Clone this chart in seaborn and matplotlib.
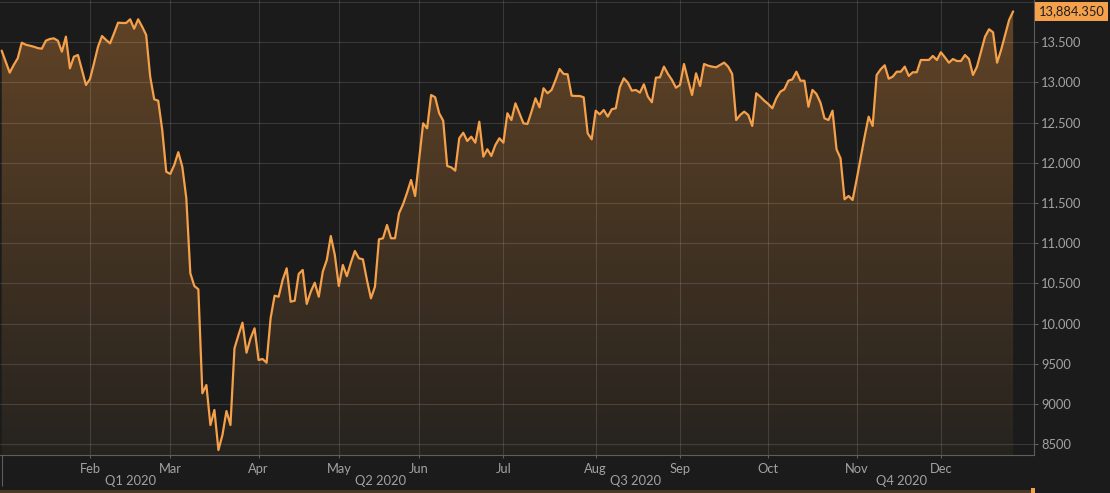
import numpy as np
import pandas as pd
import matplotlib
matplotlib.use("Agg")
import matplotlib.pyplot as plt
import matplotlib.ticker as mticker
import matplotlib.transforms as mtransforms
from matplotlib.patches import Rectangle
import seaborn as sns

# ---------------- data ----------------
start_date = "2020-01-02"
end_date = "2020-12-29"
exchange_holidays = ["2020-04-10", "2020-04-13", "2020-05-01", "2020-06-01",
                     "2020-12-24", "2020-12-25"]

close = [
    13396, 13259, 13122, 13218, 13301, 13495, 13470, 13458, 13445, 13428,
    13420, 13520, 13541, 13549, 13520, 13383, 13570, 13176, 13321, 13342,
    13155, 12969, 13043, 13239, 13445, 13578, 13529, 13487, 13612, 13744,
    13740, 13740, 13786, 13669, 13786, 13694, 13591, 13072, 12791, 12773,
    12409, 11890, 11862, 11974, 12133, 11952, 11559, 10626, 10468, 10427,
    9134, 9237, 8739, 8926, 8428, 8615, 8913, 8739, 9693, 9859,
    10012, 9639, 9818, 9942, 9548, 9560, 9514, 10067, 10348, 10335,
    10543, 10689, 10273, 10285, 10618, 10668, 10245, 10397, 10509, 10335,
    10647, 10792, 11090, 10854, 10468, 10730, 10590, 10758, 10904, 10813,
    10800, 10543, 10315, 10460, 11049, 11062, 11227, 11062, 11062, 11373,
    11485, 11629, 11787, 11588, 12036, 12492, 12430, 12844, 12816, 12617,
    12525, 11961, 11945, 11903, 12306, 12375, 12272, 12326, 12251, 12512,
    12077, 12169, 12086, 12222, 12306, 12251, 12617, 12533, 12741, 12617,
    12492, 12484, 12637, 12803, 12691, 12928, 12866, 12907, 13031, 13168,
    13106, 13102, 12836, 12832, 12832, 12816, 12368, 12293, 12649, 12604,
    12658, 12575, 12667, 12679, 12940, 13052, 12998, 12898, 12907, 12873,
    12977, 12823, 12754, 13060, 13064, 13197, 13106, 13031, 12935, 12969,
    13230, 13031, 12844, 13114, 12956, 13230, 13209, 13197, 13189, 13218,
    13247, 13197, 13106, 12533, 12596, 12637, 12596, 12459, 12866, 12823,
    12773, 12732, 12679, 12803, 12886, 12915, 13022, 13039, 13134, 13022,
    13022, 12699, 12907, 12857, 12749, 12554, 12533, 12649, 12169, 12057,
    11547, 11588, 11538, 11790, 12057, 12326, 12575, 12459, 13093, 13164,
    13214, 13047, 13072, 13134, 13134, 13197, 13081, 13127, 13127, 13280,
    13280, 13280, 13330, 13280, 13376, 13313, 13246, 13292, 13267, 13267,
    13342, 13292, 13093, 13197, 13383, 13570, 13662, 13624, 13246, 13404,
    13591, 13777, 13884.35,
]

month_labels = ["Feb", "Mar", "Apr", "May", "Jun", "Jul", "Aug", "Sep", "Oct", "Nov", "Dec"]
quarter_labels = ["Q1 2020", "Q2 2020", "Q3 2020", "Q4 2020"]
y_ticks = [8500, 9000, 9500, 10000, 10500, 11000, 11500, 12000, 12500, 13000, 13500]
last_price_label = "13,884.350"

dates = pd.bdate_range(start_date, end_date, freq="C", holidays=exchange_holidays)
df = pd.DataFrame({"date": dates[:len(close)], "close": close})
df["session"] = np.arange(len(df))

# ---------------- style ----------------
BG = "#1b1b1b"
ORANGE = "#f5a04a"
SPINE = "#5e5e5e"
TXT = "#a3a3a3"
GRID_ALPHA = 0.13

sns.set_theme(style="dark")
plt.rcParams["font.family"] = ["Lato", "DejaVu Sans"]

fig = plt.figure(figsize=(11.1, 4.93), dpi=100, facecolor=BG)
ax = fig.add_axes([0, 38 / 493, 1034 / 1110, 455 / 493])
ax.set_facecolor(BG)

xmin, xmax = -0.42, 257.2
ymin, ymax = 8366, 14026

# gradient area fill under the line
top_c = np.array([98, 68, 38]) / 255
bot_c = np.array([38, 35, 31]) / 255
t = np.linspace(0, 1, 256)[:, None]
grad = (top_c * (1 - t) + bot_c * t)[:, None, :]
im = ax.imshow(grad, extent=[xmin, xmax, ymin, ymax], aspect="auto",
               origin="upper", zorder=0.5, interpolation="bilinear")
poly = ax.fill_between(df["session"], df["close"], ymin,
                       facecolor="none", edgecolor="none")
im.set_clip_path(poly.get_paths()[0], transform=ax.transData)

sns.lineplot(data=df, x="session", y="close", color=ORANGE, linewidth=1.6,
             ax=ax, zorder=3)

ax.set_xlim(xmin, xmax)
ax.set_ylim(ymin, ymax)
ax.set_xlabel("")
ax.set_ylabel("")

# x ticks: months
month_idx = [int(df.index[df["date"].dt.month == m][0]) for m in range(2, 13)]
ax.set_xticks(month_idx)
ax.set_xticklabels(month_labels)
q_idx = [0] + [int(df.index[df["date"].dt.month == m][0]) for m in (4, 7, 10)]
ax.set_xticks(q_idx, minor=True)
bounds = q_idx + [xmax]
xtrans = ax.get_xaxis_transform()
for i, lab in enumerate(quarter_labels):
    ax.text((bounds[i] + bounds[i + 1]) / 2, -26 / 455, lab, transform=xtrans,
            ha="center", va="center", fontsize=9.3, color=TXT)

# y ticks on right
ax.yaxis.tick_right()
ax.set_yticks(y_ticks)
ax.yaxis.set_major_formatter(mticker.FuncFormatter(
    lambda v, p: f"{v:,.0f}".replace(",", ".") if v >= 10000 else f"{v:.0f}"))
ax.axhline(14000, color="white", alpha=GRID_ALPHA, linewidth=0.8, zorder=1.5)

ax.tick_params(axis="y", which="major", right=True, left=False, length=3,
               width=0.8, color=SPINE, labelcolor=TXT, labelsize=9.3, pad=2)
ax.tick_params(axis="x", which="major", bottom=True, length=2.5, width=0.8,
               color=SPINE, labelcolor=TXT, labelsize=9.3, pad=3.5)
ax.tick_params(axis="x", which="minor", bottom=True, length=22, width=0.8,
               color=SPINE)

ax.set_axisbelow("line")
ax.grid(True, which="major", color="white", alpha=GRID_ALPHA, linewidth=0.8)

for s in ("top", "left"):
    ax.spines[s].set_visible(False)
for s in ("right", "bottom"):
    ax.spines[s].set_visible(True)
    ax.spines[s].set_color(SPINE)
    ax.spines[s].set_linewidth(0.8)

# last price tag
blend = mtransforms.blended_transform_factory(ax.transAxes, ax.transData)
ax.text(1.0045, close[-1], last_price_label, transform=blend, ha="left",
        va="center", fontsize=9.3, color="#1e1e1e", clip_on=False,
        bbox=dict(boxstyle="square,pad=0.3", fc=ORANGE, ec="none"))

# navigator strip at the bottom
fig.patches.append(Rectangle((0, 0), 1032 / 1110, 3 / 493, transform=fig.transFigure,
                             facecolor="#4a3823", edgecolor="none"))
fig.patches.append(Rectangle((1031 / 1110, 0), 4 / 1110, 5 / 493, transform=fig.transFigure,
                             facecolor=ORANGE, edgecolor="none"))

fig.savefig("out.png", dpi=100, facecolor=BG)
